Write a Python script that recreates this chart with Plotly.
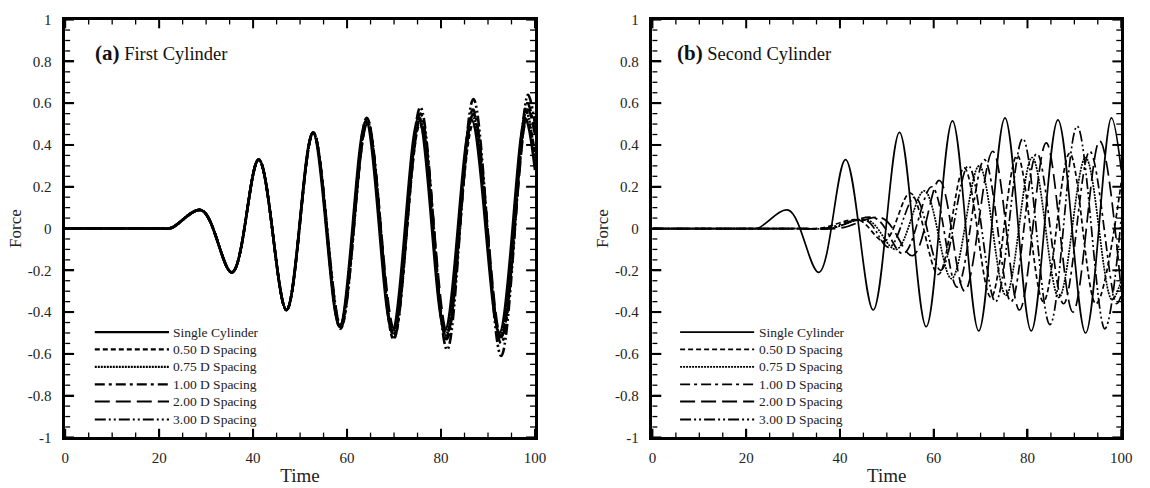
import plotly.graph_objects as go

# ---------------- data (extrema) ----------------
# Panel (a) First Cylinder
T_SINGLE = [0, 10, 20, 22.5, 29.0, 35.5, 41.2, 47.1, 52.7, 58.4, 64.0, 69.6, 75.2, 80.8, 86.5, 92.4, 97.9, 100]
F_SINGLE = [0, 0, 0, 0.002, 0.088, -0.21, 0.33, -0.39, 0.46, -0.47, 0.515, -0.49, 0.53, -0.49, 0.52, -0.50, 0.53, 0.28]

T_A050 = [0, 10, 20, 22.5, 29.0, 35.5, 41.2, 47.1, 52.8, 58.6, 64.3, 69.9, 75.5, 81.1, 86.8, 92.7, 98.2, 100]
F_A050 = [0, 0, 0, 0.002, 0.088, -0.21, 0.33, -0.39, 0.46, -0.48, 0.51, -0.53, 0.50, -0.52, 0.50, -0.52, 0.52, 0.36]

T_A075 = [0, 10, 20, 22.5, 29.0, 35.5, 41.2, 47.1, 52.8, 58.5, 64.2, 69.8, 75.4, 81.0, 86.7, 92.6, 98.1, 100]
F_A075 = [0, 0, 0, 0.002, 0.088, -0.21, 0.33, -0.39, 0.46, -0.47, 0.52, -0.50, 0.53, -0.51, 0.54, -0.51, 0.56, 0.33]

T_A100 = [0, 10, 20, 22.5, 29.0, 35.5, 41.2, 47.1, 52.8, 58.5, 64.2, 69.9, 75.6, 81.2, 86.8, 92.8, 98.4, 100]
F_A100 = [0, 0, 0, 0.002, 0.088, -0.21, 0.33, -0.39, 0.46, -0.47, 0.53, -0.51, 0.55, -0.53, 0.57, -0.55, 0.60, 0.45]

T_A200 = [0, 10, 20, 22.5, 29.0, 35.5, 41.2, 47.1, 52.8, 58.6, 64.3, 70.0, 75.6, 81.3, 86.9, 92.8, 98.5, 100]
F_A200 = [0, 0, 0, 0.002, 0.088, -0.21, 0.33, -0.39, 0.46, -0.46, 0.50, -0.48, 0.52, -0.50, 0.55, -0.52, 0.57, 0.45]

T_A300 = [0, 10, 20, 22.5, 29.0, 35.5, 41.2, 47.1, 52.8, 58.7, 64.3, 70.0, 75.6, 81.3, 86.9, 92.8, 98.5, 100]
F_A300 = [0, 0, 0, 0.002, 0.088, -0.21, 0.33, -0.39, 0.46, -0.47, 0.52, -0.52, 0.58, -0.58, 0.62, -0.61, 0.64, 0.50]

# Panel (b) Second Cylinder
T_B050 = [0, 15, 30, 36, 44.0, 49.5, 55.0, 61.0, 66.5, 72.2, 77.8, 83.4, 89.0, 94.6, 100]
F_B050 = [0, 0, 0, 0.002, 0.04, -0.06, 0.17, -0.22, 0.29, -0.33, 0.35, -0.35, 0.36, -0.36, 0.22]

T_B075 = [0, 15, 30, 38, 46.0, 52.0, 58.0, 63.8, 69.7, 75.4, 81.0, 86.7, 92.4, 98.0, 100]
F_B075 = [0, 0, 0, 0.002, 0.04, -0.10, 0.18, -0.24, 0.30, -0.32, 0.34, -0.33, 0.34, -0.34, -0.25]

T_B100 = [0, 15, 30, 38, 47.5, 53.5, 59.6, 65.0, 70.8, 76.5, 82.0, 87.7, 93.3, 99.0, 100]
F_B100 = [0, 0, 0, 0.002, 0.05, -0.12, 0.20, -0.28, 0.33, -0.35, 0.36, -0.36, 0.37, -0.36, -0.32]

T_B200 = [0, 15, 30, 40, 49.0, 55.5, 61.2, 66.6, 72.6, 78.3, 84.0, 89.7, 95.4, 100]
F_B200 = [0, 0, 0, 0.002, 0.05, -0.13, 0.23, -0.30, 0.37, -0.39, 0.41, -0.40, 0.42, -0.30]

T_B300 = [0, 15, 30, 37, 45.5, 50.5, 56.0, 61.5, 67.4, 73.2, 79.0, 84.8, 90.6, 96.5, 100]
F_B300 = [0, 0, 0, 0.002, 0.04, -0.09, 0.15, -0.20, 0.30, -0.35, 0.43, -0.46, 0.49, -0.48, 0.05]

SERIES_NAMES = ["Single Cylinder", "0.50 D Spacing", "0.75 D Spacing",
                "1.00 D Spacing", "2.00 D Spacing", "3.00 D Spacing"]
PANEL_TITLES = ["(a)", "(b)"]
PANEL_SUBTITLES = ["First Cylinder", "Second Cylinder"]
X_TICKS = [0, 20, 40, 60, 80, 100]
Y_TICKS = [1, 0.8, 0.6, 0.4, 0.2, 0, -0.2, -0.4, -0.6, -0.8, -1]
Y_TICK_TEXT = ["1", "0.8", "0.6", "0.4", "0.2", "0", "-0.2", "-0.4", "-0.6", "-0.8", "-1"]
X_MINOR_STEP = 5
Y_MINOR_STEP = 0.05
X_RANGE = [0, 100]
Y_RANGE = [-1, 1]

# ---------------- styling ----------------
FONT = "Liberation Serif, Times New Roman, serif"
DASHES = ["solid", "5px,3px", "2px,1px", "10px,4px,3px,4px", "15px,6px", "11px,3px,2px,3px,2px,3px"]

fig = go.Figure()

panel_a = [(T_SINGLE, F_SINGLE), (T_A050, F_A050), (T_A075, F_A075),
           (T_A100, F_A100), (T_A200, F_A200), (T_A300, F_A300)]
panel_b = [(T_SINGLE, F_SINGLE), (T_B050, F_B050), (T_B075, F_B075),
           (T_B100, F_B100), (T_B200, F_B200), (T_B300, F_B300)]

order = [1, 2, 3, 4, 5, 0]
for i in order:
    t, f = panel_a[i]
    fig.add_trace(go.Scatter(x=t, y=f, mode="lines", name=SERIES_NAMES[i],
                             line=dict(color="black", width=2.6, dash=DASHES[i], shape="spline"),
                             xaxis="x", yaxis="y", showlegend=False, hoverinfo="skip"))
for i in order:
    t, f = panel_b[i]
    fig.add_trace(go.Scatter(x=t, y=f, mode="lines", name=SERIES_NAMES[i],
                             line=dict(color="black", width=1.7, dash=DASHES[i], shape="spline"),
                             xaxis="x2", yaxis="y2", showlegend=False, hoverinfo="skip"))

W, H = 1150, 488
dom_x1 = [62 / W, 538 / W]
dom_x2 = [657 / W, 1132 / W]
dom_y = [(H - 444) / H, (H - 12) / H]

# tick positions (every minor step; majors are those in X_TICKS / Y_TICKS)
x_all = [X_RANGE[0] + i * X_MINOR_STEP for i in range(int((X_RANGE[1] - X_RANGE[0]) / X_MINOR_STEP) + 1)]
y_all = [round(Y_RANGE[0] + i * Y_MINOR_STEP, 4) for i in range(int((Y_RANGE[1] - Y_RANGE[0]) / Y_MINOR_STEP) + 1)]

# inside tick marks on all four sides (unclipped paper-referenced lines, following each panel's scale)
for dx in (dom_x1, dom_x2):
    dy = dom_y
    for v in x_all:
        major = any(abs(v - m) < 1e-9 for m in X_TICKS)
        ln, wd = (9, 2) if major else (5, 1.3)
        px = dx[0] + (v - X_RANGE[0]) / (X_RANGE[1] - X_RANGE[0]) * (dx[1] - dx[0])
        d = ln / H
        fig.add_shape(type="line", xref="paper", yref="paper", x0=px, x1=px, y0=dy[0], y1=dy[0] + d,
                      line=dict(color="black", width=wd), layer="above")
        fig.add_shape(type="line", xref="paper", yref="paper", x0=px, x1=px, y0=dy[1], y1=dy[1] - d,
                      line=dict(color="black", width=wd), layer="above")
    for v in y_all:
        major = any(abs(v - m) < 1e-9 for m in Y_TICKS)
        ln, wd = (9, 2) if major else (5, 1.3)
        py = dy[0] + (v - Y_RANGE[0]) / (Y_RANGE[1] - Y_RANGE[0]) * (dy[1] - dy[0])
        d = ln / W
        fig.add_shape(type="line", xref="paper", yref="paper", x0=dx[0], x1=dx[0] + d, y0=py, y1=py,
                      line=dict(color="black", width=wd), layer="above")
        fig.add_shape(type="line", xref="paper", yref="paper", x0=dx[1], x1=dx[1] - d, y0=py, y1=py,
                      line=dict(color="black", width=wd), layer="above")

def xaxis(domain, anchor):
    return dict(domain=domain, anchor=anchor, range=X_RANGE, tickmode="array", tickvals=X_TICKS,
                ticks="inside", ticklen=9, tickwidth=2, tickcolor="black",
                showline=True, linewidth=2.5, linecolor="black", mirror=True, layer="above traces",
                showgrid=False, zeroline=False, ticklabelstandoff=5,
                tickfont=dict(family=FONT, size=15, color="#222"),
                title=dict(text="Time", font=dict(family=FONT, size=19, color="#222"), standoff=4))

def yaxis(domain, anchor):
    return dict(domain=domain, anchor=anchor, range=Y_RANGE, tickmode="array", tickvals=Y_TICKS, ticktext=Y_TICK_TEXT,
                ticks="inside", ticklen=9, tickwidth=2, tickcolor="black",
                showline=True, linewidth=2.5, linecolor="black", mirror=True, layer="above traces",
                showgrid=False, zeroline=False, ticklabelstandoff=8,
                tickfont=dict(family=FONT, size=15, color="#222"),
                title=dict(text="Force", font=dict(family=FONT, size=17, color="#222"), standoff=2))

fig.update_layout(
    width=W, height=H, margin=dict(l=0, r=0, t=0, b=0),
    plot_bgcolor="white",
    xaxis=xaxis(dom_x1, "y"), yaxis=yaxis(dom_y, "x"),
    xaxis2=xaxis(dom_x2, "y2"), yaxis2=yaxis(dom_y, "x2"),
    showlegend=False,
)

# panel labels
title_x = [0.059, 0.048]
for k, (xr, yr) in enumerate([("x domain", "y domain"), ("x2 domain", "y2 domain")]):
    fig.add_annotation(xref=xr, yref=yr, x=title_x[k], y=0.92, xanchor="left", yanchor="middle",
                       showarrow=False,
                       text="<span style='font-size:21px'><b>%s</b></span> %s" % (PANEL_TITLES[k], PANEL_SUBTITLES[k]),
                       font=dict(family=FONT, size=18.5, color="#111"))

# custom legends
row_y = [0.252, 0.211, 0.169, 0.127, 0.086, 0.043]
leg_x = [(0.063, 0.221, 0.226), (0.059, 0.217, 0.222)]
leg_w = [2.2, 1.8]
for k, (xr, yr) in enumerate([("x domain", "y domain"), ("x2 domain", "y2 domain")]):
    x0, x1, xt = leg_x[k]
    for i, name in enumerate(SERIES_NAMES):
        fig.add_shape(type="line", xref=xr, yref=yr, x0=x0, x1=x1, y0=row_y[i], y1=row_y[i],
                      line=dict(color="black", width=leg_w[k], dash=DASHES[i]))
        fig.add_annotation(xref=xr, yref=yr, x=xt, y=row_y[i], xanchor="left", yanchor="middle",
                           showarrow=False, text=name,
                           font=dict(family=FONT, size=13.5, color="#222"))

fig.write_html("out.html")
